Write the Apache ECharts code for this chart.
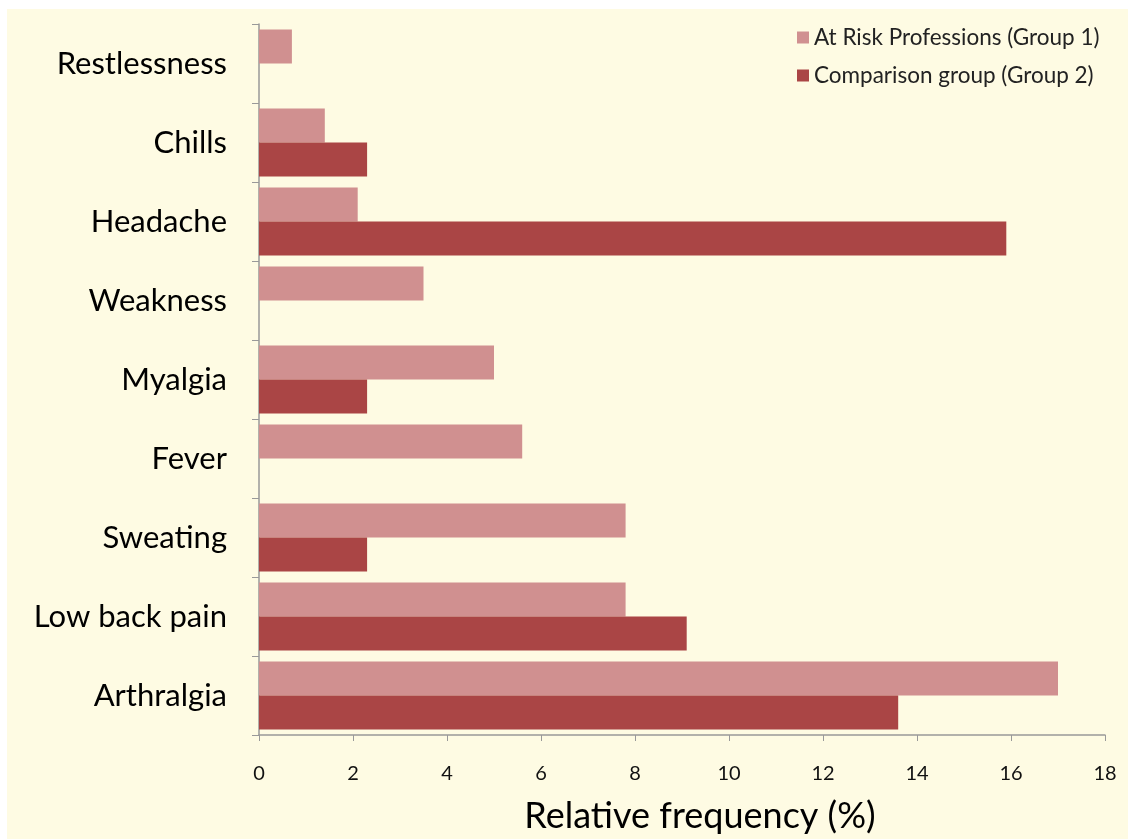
<!DOCTYPE html>
<html><head><meta charset="utf-8">
<script src="https://cdn.jsdelivr.net/npm/echarts@6/dist/echarts.min.js"></script>
<style>
html,body{margin:0;padding:0;background:#fff;width:1128px;height:839px;overflow:hidden}
#c{position:absolute;left:7px;top:9px;width:1121px;height:830px;background:#FEFBE3}
</style></head><body>
<div id="c"></div>
<script>
const categories = ["Restlessness","Chills","Headache","Weakness","Myalgia","Fever","Sweating","Low back pain","Arthralgia"];
const group1 = [0.7,1.4,2.1,3.5,5.0,5.6,7.8,7.8,17.0];
const group2 = [0,2.3,15.9,0,2.3,0,2.3,9.1,13.6];
const seriesNames = ["At Risk Professions (Group 1)","Comparison group (Group 2)"];
const xTicks = {min:0,max:18,interval:2};

const font = "Lato, 'Open Sans', sans-serif";
const chart = echarts.init(document.getElementById('c'));
chart.setOption({
  backgroundColor: '#FEFBE3',
  animation: false,
  textStyle: {fontFamily: font, color:'#000'},
  legend: {
    orient: 'vertical', left: 785, top: 12, itemWidth: 12, itemHeight: 12, itemGap: 15,
    textStyle: {fontSize: 22.5, color:'#222', fontFamily: font},
    icon: 'rect',
    data: seriesNames
  },
  grid: {left: 252, right: 23, top: 15, bottom: 92, containLabel:false},
  xAxis: {
    type: 'value', min: xTicks.min, max: xTicks.max, interval: xTicks.interval,
    name: 'Relative frequency (%)', nameLocation: 'middle', nameGap: 63,
    nameTextStyle: {fontSize: 36, color:'#000', fontFamily: font, padding:[0,0,0,36]},
    axisLine: {show:true, lineStyle:{color:'#999', width:1.5}},
    axisTick: {show:true, length:6, lineStyle:{color:'#999'}},
    axisLabel: {fontSize: 20, color:'#111', margin: 29, fontFamily: font},
    splitLine: {show:false}
  },
  yAxis: {
    type: 'category', data: categories, inverse: true,
    axisLine: {show:true, lineStyle:{color:'#999', width:1.5}},
    axisTick: {show:true, length:7, lineStyle:{color:'#999'}},
    axisLabel: {fontSize: 31, color:'#000', margin: 32, fontFamily: font},
    splitLine: {show:false}
  },
  series: [
    {name: seriesNames[0], type:'bar', data: group1, itemStyle:{color:'#D09090'}, barGap:'0%', barCategoryGap:'14%'},
    {name: seriesNames[1], type:'bar', data: group2, itemStyle:{color:'#AA4545'}, barGap:'0%', barCategoryGap:'14%'}
  ]
});
</script></body></html>
